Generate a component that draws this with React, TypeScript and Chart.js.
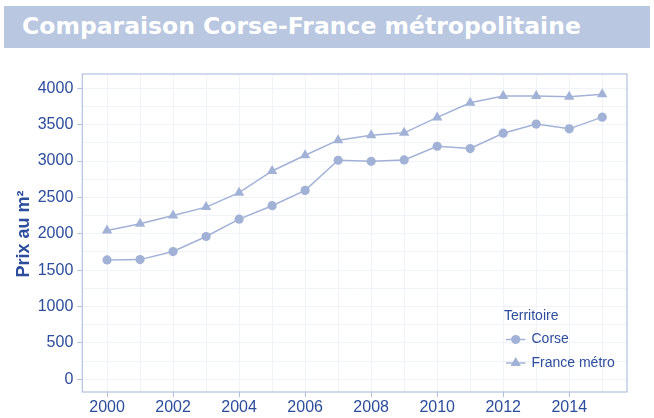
import React, { useEffect, useRef } from "react";
import { Chart, registerables } from "chart.js";

Chart.register(...registerables);

const years = [2000, 2001, 2002, 2003, 2004, 2005, 2006, 2007, 2008, 2009, 2010, 2011, 2012, 2013, 2014, 2015];
const corse = [1641, 1645, 1756, 1963, 2201, 2386, 2597, 3011, 2997, 3016, 3204, 3172, 3383, 3508, 3443, 3604];
const franceMetro = [2045, 2138, 2252, 2367, 2565, 2864, 3080, 3287, 3356, 3388, 3600, 3802, 3894, 3894, 3885, 3917];
const xTickValues = [2000, 2001, 2002, 2003, 2004, 2005, 2006, 2007, 2008, 2009, 2010, 2011, 2012, 2013, 2014, 2015];
const xLabelledTicks = [2000, 2002, 2004, 2006, 2008, 2010, 2012, 2014];
const yTickValues = [0, 250, 500, 750, 1000, 1250, 1500, 1750, 2000, 2250, 2500, 2750, 3000, 3250, 3500, 3750, 4000];
const yLabelledTicks = [0, 500, 1000, 1500, 2000, 2500, 3000, 3500, 4000];
const seriesNames = ["Corse", "France métro"];
const legendTitle = "Territoire";
const yTitle = "Prix au m²";
const chartTitle = "Comparaison Corse-France métropolitaine";

const TEXT = "#2c4c9c";
const MARK = "#a2b2d7";
const GRID = "#f1f3fa";
const BORDER = "#b3c2e2";
const FONT = "'Liberation Sans', Arial, sans-serif";

export default function App() {
  const ref = useRef<HTMLCanvasElement | null>(null);

  useEffect(() => {
    if (!ref.current) return;
    const frame = {
      id: "frame",
      afterDraw(chart: any) {
        const { ctx, chartArea: a } = chart;
        ctx.save();
        ctx.strokeStyle = BORDER;
        ctx.lineWidth = 1.2;
        ctx.strokeRect(a.left, a.top, a.right - a.left, a.bottom - a.top);
        // y title
        ctx.fillStyle = TEXT;
        ctx.font = `bold 18px ${FONT}`;
        ctx.textAlign = "center";
        ctx.textBaseline = "middle";
        ctx.translate(24, 234);
        ctx.rotate(-Math.PI / 2);
        ctx.fillText(yTitle, 0, 0);
        ctx.restore();
        // legend
        ctx.save();
        ctx.fillStyle = TEXT;
        ctx.font = `14px ${FONT}`;
        ctx.textAlign = "left";
        ctx.textBaseline = "middle";
        ctx.fillText(legendTitle, 504, 316);
        const ys = [339.5, 363];
        seriesNames.forEach((name, i) => {
          const y = ys[i];
          ctx.strokeStyle = MARK;
          ctx.lineWidth = 1.5;
          ctx.beginPath();
          ctx.moveTo(506, y);
          ctx.lineTo(525.5, y);
          ctx.stroke();
          ctx.fillStyle = MARK;
          ctx.beginPath();
          if (i === 0) {
            ctx.arc(515.7, y, 4.6, 0, Math.PI * 2);
          } else {
            const r = 6;
            ctx.moveTo(515.7, y - r);
            ctx.lineTo(515.7 + r * 0.866, y + r * 0.5);
            ctx.lineTo(515.7 - r * 0.866, y + r * 0.5);
            ctx.closePath();
          }
          ctx.fill();
          ctx.fillStyle = TEXT;
          ctx.fillText(name, 531.5, y);
        });
        ctx.restore();
      },
    };

    const chart = new Chart(ref.current, {
      type: "line",
      data: {
        datasets: [
          {
            label: seriesNames[0],
            data: years.map((x, i) => ({ x, y: corse[i] })),
            borderColor: MARK,
            backgroundColor: MARK,
            borderWidth: 1.5,
            pointStyle: "circle",
            pointRadius: 4.6,
            pointBorderWidth: 0,
            tension: 0,
          },
          {
            label: seriesNames[1],
            data: years.map((x, i) => ({ x, y: franceMetro[i] })),
            borderColor: MARK,
            backgroundColor: MARK,
            borderWidth: 1.5,
            pointStyle: "triangle",
            pointRadius: 6,
            pointBorderWidth: 0,
            tension: 0,
          },
        ],
      },
      options: {
        animation: false,
        responsive: false,
        maintainAspectRatio: false,
        layout: { padding: { left: 0, right: 27, top: 74, bottom: 0 } },
        plugins: { legend: { display: false }, tooltip: { enabled: false }, title: { display: false } },
        scales: {
          x: {
            type: "linear",
            min: 1999.25,
            max: 2015.75,
            afterBuildTicks: (s: any) => {
              s.ticks = xTickValues.map((v) => ({ value: v }));
            },
            afterFit: (s: any) => {
              s.height = 26;
            },
            border: { display: false },
            grid: {
              color: GRID,
              lineWidth: 1,
              drawTicks: true,
              tickLength: 5,
              tickColor: (c: any) => (xLabelledTicks.includes(c.tick?.value) ? BORDER : "rgba(0,0,0,0)"),
            },
            ticks: {
              color: TEXT,
              font: { family: FONT, size: 16 },
              padding: 1,
              maxRotation: 0,
              autoSkip: false,
              callback: (v: any) => (xLabelledTicks.includes(Number(v)) ? String(v) : ""),
            },
          },
          y: {
            type: "linear",
            min: -175,
            max: 4197,
            afterBuildTicks: (s: any) => {
              s.ticks = yTickValues.map((v) => ({ value: v }));
            },
            afterFit: (s: any) => {
              s.width = 82.3;
            },
            border: { display: false },
            grid: {
              color: GRID,
              lineWidth: 1,
              drawTicks: true,
              tickLength: 5,
              tickColor: (c: any) => (yLabelledTicks.includes(c.tick?.value) ? BORDER : "rgba(0,0,0,0)"),
            },
            ticks: {
              color: TEXT,
              font: { family: FONT, size: 16 },
              padding: 4,
              autoSkip: false,
              callback: (v: any) => (yLabelledTicks.includes(Number(v)) ? String(v) : ""),
            },
          },
        },
      },
      plugins: [frame],
    });
    return () => chart.destroy();
  }, []);

  return (
    <div style={{ position: "absolute", left: 0, top: 0, width: 654, height: 418, background: "#fff" }}>
      <div
        style={{
          position: "absolute",
          left: 4,
          top: 6,
          width: 646,
          height: 42,
          background: "#b9c7e1",
          color: "#ffffff",
          fontFamily: "'DejaVu Sans', sans-serif",
          fontWeight: "bold",
          fontSize: 23.5,
          lineHeight: "41px",
          paddingLeft: 18,
          boxSizing: "border-box",
          whiteSpace: "nowrap",
        }}
      >
        {chartTitle}
      </div>
      <canvas ref={ref} width={654} height={418} style={{ position: "absolute", left: 0, top: 0, width: 654, height: 418 }} />
    </div>
  );
}
